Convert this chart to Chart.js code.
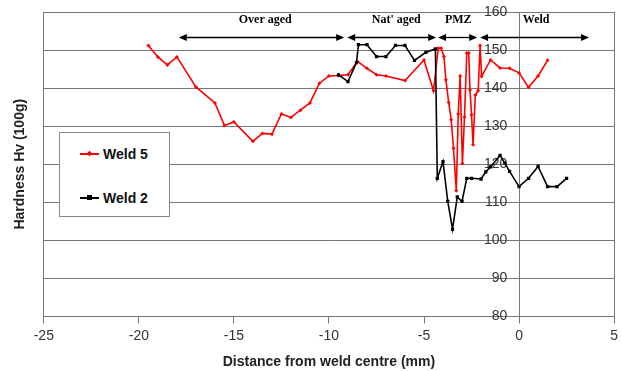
<!DOCTYPE html>
<html>
<head>
<meta charset="utf-8">
<script src="https://cdn.jsdelivr.net/npm/chart.js@4.4.1/dist/chart.umd.min.js"></script>
<style>
  body { margin: 0; background: #fff; }
  #wrap { position: relative; width: 622px; height: 371px; }
  #legend {
    position: absolute; left: 59px; top: 132px; width: 109px; height: 83px;
    border: 1px solid #888; background: #fff;
    font: bold 14px "Liberation Sans", Arial, sans-serif; color: #111;
  }
  .item { position: absolute; left: 20px; height: 16px; line-height: 16px; white-space: nowrap; }
  .line { display: inline-block; position: relative; width: 19px; height: 2px; vertical-align: middle; margin-right: 4px; top: -1px; }
  .mark { position: absolute; left: 7px; top: -2px; width: 5px; height: 5px; }
</style>
</head>
<body>
<div id="wrap">
  <canvas id="chart" width="622" height="371"></canvas>
  <div id="legend"></div>
</div>
<script>
// hardness traverse
const weld5X = [-19.5, -19, -18.5, -18, -17, -16, -15.5, -15, -14, -13.5, -13, -12.5, -12, -11.5, -11, -10.5, -10, -9.5, -9, -8.5, -8, -7.5, -7, -6, -5,
  -4.5, -4.25, -4.1, -3.95, -3.85, -3.7, -3.57, -3.45, -3.3, -3.2, -3.1, -2.98, -2.87, -2.75, -2.65, -2.58, -2.5, -2.42, -2.3, -2.15, -2.05, -1.97,
  -1.5, -1, -0.5, 0, 0.5, 1, 1.5];
const weld5Y = [151.2, 148.2, 146.1, 148.2, 140.3, 136.1, 130.2, 131.1, 126.0, 128.1, 127.9, 133.2, 132.3, 134.2, 136.1, 141.3, 143.2, 143.3, 143.5, 147.0, 145.2, 143.5, 143.2, 142.0, 147.4,
  139.3, 150.5, 150.5, 148.3, 142.2, 136.2, 131.7, 124.2, 113.0, 133.2, 143.2, 120.2, 132.4, 149.2, 149.2, 139.5, 133.0, 125.1, 138.2, 139.3, 151.2, 143.1,
  147.4, 145.3, 145.2, 144.0, 140.2, 143.2, 147.3];

const weld2X = [-9.5, -9, -8.55, -8.45, -8, -7.5, -7, -6.5, -6, -5.5, -4.9, -4.4, -4.3, -4, -3.75, -3.5, -3.25, -3, -2.75, -2.5, -2, -1.75, -1.5, -1, -0.75, -0.5, 0, 0.5, 1, 1.5, 2, 2.5];
const weld2Y = [143.5, 141.7, 146.7, 151.4, 151.4, 148.3, 148.3, 151.2, 151.2, 147.3, 149.4, 150.3, 116.3, 120.7, 110.2, 102.9, 111.4, 110.2, 116.3, 116.3, 116.1, 118.0, 119.3, 122.3, 120.3, 118.1, 114.1, 116.3, 119.4, 114.1, 114.1, 116.3];

// zone annotations along the top
const regionNames = ['Over aged', "Nat' aged", 'PMZ', 'Weld'];
const regionFrom = [-17.9, -9.04, -4.26, -2.05];
const regionTo = [-9.2, -4.36, -2.2, 3.68];
const regionLabelX = [-13.35, -6.46, -3.2, 0.9];
const arrowLevel = 153.3;
const labelLevel = 158;

const sans = '"Liberation Sans", Arial, sans-serif';

function points(xs, ys) {
  return xs.map((x, i) => ({ x: x, y: ys[i] }));
}

const regionArrows = {
  id: 'regionArrows',
  afterDatasetsDraw(chart) {
    const ctx = chart.ctx;
    const x = chart.scales.x, y = chart.scales.y;
    const ay = y.getPixelForValue(arrowLevel);
    ctx.save();
    ctx.strokeStyle = '#000';
    ctx.fillStyle = '#000';
    ctx.lineWidth = 1.3;
    function head(px, dir) {
      ctx.beginPath();
      ctx.moveTo(px, ay);
      ctx.lineTo(px - dir * 8, ay - 3.5);
      ctx.lineTo(px - dir * 8, ay + 3.5);
      ctx.closePath();
      ctx.fill();
    }
    regionNames.forEach((name, i) => {
      const x1 = x.getPixelForValue(regionFrom[i]);
      const x2 = x.getPixelForValue(regionTo[i]);
      ctx.beginPath();
      ctx.moveTo(x1 + 4, ay);
      ctx.lineTo(x2 - 4, ay);
      ctx.stroke();
      head(x1, -1);
      head(x2, 1);
      ctx.font = 'bold 12px "Liberation Serif", "Times New Roman", serif';
      ctx.textAlign = 'center';
      ctx.textBaseline = 'middle';
      ctx.fillText(name, x.getPixelForValue(regionLabelX[i]), y.getPixelForValue(labelLevel));
    });
    ctx.restore();
  }
};

const chart = new Chart(document.getElementById('chart').getContext('2d'), {
  type: 'scatter',
  data: {
    datasets: [{
      label: 'Weld 5',
      data: points(weld5X, weld5Y),
      showLine: true,
      borderColor: '#ff0000',
      backgroundColor: '#ff0000',
      borderWidth: 1.6,
      pointStyle: 'rectRot',
      pointRadius: 2,
      pointBorderWidth: 0,
      order: 1
    }, {
      label: 'Weld 2',
      data: points(weld2X, weld2Y),
      showLine: true,
      borderColor: '#000',
      backgroundColor: '#000',
      borderWidth: 1.6,
      pointStyle: 'rect',
      pointRadius: 2.3,
      pointBorderWidth: 0,
      order: 0
    }]
  },
  options: {
    responsive: false,
    animation: false,
    layout: { padding: { left: 4, right: 3, top: 12, bottom: 0 } },
    plugins: { legend: { display: false }, tooltip: { enabled: false } },
    scales: {
      x: {
        type: 'linear', min: -25, max: 5,
        ticks: { stepSize: 5, color: '#333', padding: 4, font: { family: sans, size: 14 } },
        grid: {
          color: c => [-25, 0, 5].includes(c.tick.value) ? '#777' : 'rgba(0,0,0,0)',
          tickColor: '#777', tickLength: 7
        },
        border: { color: '#777' },
        title: {
          display: true, text: 'Distance from weld centre (mm)', color: '#222',
          font: { family: sans, size: 14, weight: 'bold' }, padding: { top: 6, bottom: 0 }
        }
      },
      y: {
        type: 'linear', position: { x: 0 }, min: 80, max: 160,
        ticks: {
          stepSize: 10, color: '#333', font: { family: sans, size: 14 },
          callback: v => v + '   '
        },
        grid: { color: '#777', drawTicks: false },
        border: { color: '#777' }
      },
      yl: {
        type: 'linear', position: 'left', min: 80, max: 160,
        ticks: { display: false },
        grid: { display: false, drawTicks: false },
        border: { display: false },
        title: {
          display: true, text: 'Hardness Hv (100g)', color: '#222',
          font: { family: sans, size: 14, weight: 'bold' }, padding: { top: 8, bottom: 15 }
        }
      }
    }
  },
  plugins: [regionArrows]
});

// legend box drawn from the datasets
const legend = document.getElementById('legend');
chart.data.datasets.forEach((ds, i) => {
  const item = document.createElement('div');
  item.className = 'item';
  item.style.top = (13 + i * 44) + 'px';
  const line = document.createElement('span');
  line.className = 'line';
  line.style.background = ds.borderColor;
  const mark = document.createElement('span');
  mark.className = 'mark';
  mark.style.background = ds.borderColor;
  if (ds.pointStyle === 'rectRot') mark.style.transform = 'rotate(45deg) scale(0.8)';
  line.appendChild(mark);
  item.appendChild(line);
  item.appendChild(document.createTextNode(ds.label));
  legend.appendChild(item);
});
</script>
</body>
</html>
